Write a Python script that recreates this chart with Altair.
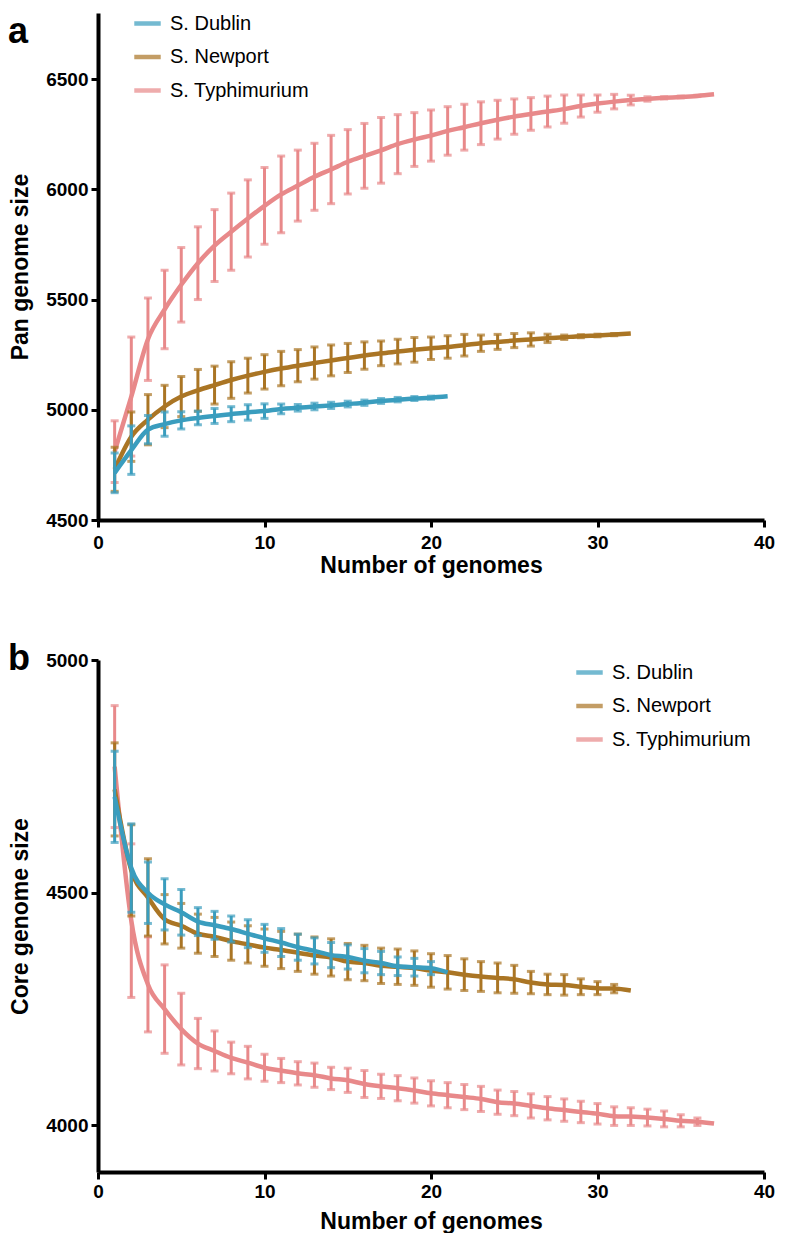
import altair as alt
import pandas as pd

SERIES = ["S. Dublin", "S. Newport", "S. Typhimurium"]
COLORS = ["#3A9DBE", "#AA7524", "#E8898A"]
X_TICKS = [0, 10, 20, 30, 40]
PAN_TICKS = [4500, 5000, 5500, 6000, 6500]
CORE_TICKS = [4000, 4500, 5000]

# ---- Panel a: pan genome size ----
PAN_DUB_N = list(range(1, 22))
PAN_DUB_MEAN = [4714, 4817, 4910, 4935, 4952, 4963, 4972, 4980, 4988, 4994, 5004,
                5009, 5015, 5020, 5026, 5032, 5040, 5046, 5051, 5055, 5061]
PAN_DUB_SD = [90, 110, 64, 55, 39, 31, 34, 34, 35, 33, 22, 15, 15, 14, 13, 12, 11,
              10, 9, 7, 0]

PAN_NEW_N = list(range(1, 33))
PAN_NEW_MEAN = [4730, 4878, 4955, 5015, 5060, 5088, 5112, 5135, 5155, 5172, 5187,
                5200, 5212, 5224, 5235, 5246, 5256, 5264, 5272, 5279, 5285, 5293,
                5302, 5308, 5314, 5319, 5324, 5329, 5334, 5337, 5341, 5346]
PAN_NEW_SD = [100, 112, 114, 96, 91, 95, 86, 83, 79, 78, 78, 73, 73, 70, 66, 62,
              56, 56, 56, 51, 51, 49, 37, 34, 32, 30, 19, 10, 7, 6, 5, 0]

PAN_TYP_N = list(range(1, 38))
PAN_TYP_MEAN = [4810, 5060, 5320, 5455, 5567, 5665, 5745, 5808, 5868, 5925, 5977,
                6017, 6057, 6090, 6125, 6152, 6177, 6205, 6226, 6244, 6265, 6282,
                6300, 6316, 6330, 6342, 6353, 6364, 6378, 6389, 6398, 6405, 6410,
                6415, 6419, 6424, 6431]
PAN_TYP_SD = [140, 270, 187, 178, 169, 165, 163, 175, 175, 174, 174, 161, 152, 155,
              146, 147, 149, 134, 122, 116, 110, 104, 97, 88, 80, 74, 70, 64, 50,
              39, 33, 22, 10, 5, 4, 3, 0]

# ---- Panel b: core genome size ----
CORE_DUB_N = list(range(1, 22))
CORE_DUB_MEAN = [4706, 4553, 4500, 4475, 4458, 4438, 4430, 4422, 4412, 4402, 4393,
                 4383, 4375, 4366, 4362, 4354, 4349, 4342, 4340, 4338, 4329]
CORE_DUB_SD = [98, 95, 66, 55, 49, 30, 30, 28, 30, 30, 30, 28, 28, 27, 26, 26, 25,
               20, 19, 14, 0]

CORE_NEW_N = list(range(1, 33))
CORE_NEW_MEAN = [4722, 4548, 4490, 4443, 4429, 4412, 4405, 4396, 4389, 4382, 4377,
                 4371, 4365, 4361, 4352, 4349, 4343, 4341, 4338, 4333, 4329, 4324,
                 4320, 4317, 4314, 4307, 4303, 4302, 4298, 4295, 4294, 4290]
CORE_NEW_SD = [100, 98, 83, 53, 48, 42, 42, 41, 40, 40, 40, 40, 40, 40, 39, 38, 38,
               38, 37, 36, 36, 34, 32, 32, 30, 24, 22, 22, 17, 14, 9, 0]

CORE_TYP_N = list(range(1, 38))
CORE_TYP_MEAN = [4771, 4440, 4303, 4250, 4207, 4176, 4160, 4145, 4135, 4124, 4118,
                 4112, 4108, 4101, 4097, 4089, 4084, 4080, 4075, 4069, 4065, 4061,
                 4057, 4050, 4047, 4042, 4037, 4033, 4029, 4025, 4020, 4019, 4017,
                 4014, 4010, 4008, 4004]
CORE_TYP_SD = [131, 165, 102, 95, 77, 54, 43, 34, 35, 29, 26, 25, 26, 24, 26, 29,
               26, 27, 27, 27, 27, 27, 27, 26, 26, 26, 25, 24, 23, 22, 20, 19, 18,
               17, 13, 8, 0]

FONT = "Liberation Sans"
PLOT_W = 666


def frame(name, ns, means, sds):
    return pd.DataFrame({
        "n": ns,
        "mean": means,
        "lo": [m - s for m, s in zip(means, sds)],
        "hi": [m + s for m, s in zip(means, sds)],
        "sd": sds,
        "series": name,
    })


def panel(frames, ydom, yticks, ytitle, letter, letter_y, legend_x, legend_y,
          height, label_pad, title_pad):
    color_scale = alt.Scale(domain=SERIES, range=COLORS)
    legend = alt.Legend(
        orient="none", legendX=legend_x, legendY=legend_y, title=None,
        labelFont=FONT, labelFontSize=20, labelColor="black",
        symbolType="stroke", symbolStrokeWidth=4.5, symbolSize=700,
        labelOffset=7, rowPadding=7.5, padding=0, labelLimit=300,
    )
    x = alt.X("n:Q", scale=alt.Scale(domain=[0, 40], nice=False),
              axis=alt.Axis(values=X_TICKS, title="Number of genomes",
                            labelPadding=label_pad, titlePadding=title_pad,
                            format="d"))
    y_axis = alt.Axis(values=yticks, title=ytitle, titlePadding=13,
                      labelPadding=3, format="d")
    y_scale = alt.Scale(domain=ydom, nice=False, zero=False)
    layers = []
    # draw order: Typhimurium (bottom), Newport, Dublin (top)
    for df in frames:
        base = alt.Chart(df)
        eb = alt.Chart(df[df["sd"] > 0])
        color = alt.Color("series:N", scale=color_scale, legend=legend)
        layers.append(eb.mark_rule(strokeWidth=3).encode(
            x=x, y=alt.Y("lo:Q", scale=y_scale, axis=y_axis), y2="hi:Q",
            color=color))
        layers.append(eb.mark_tick(orient="horizontal", size=8, thickness=3).encode(
            x=x, y=alt.Y("lo:Q", scale=y_scale, axis=y_axis), color=color))
        layers.append(eb.mark_tick(orient="horizontal", size=8, thickness=3).encode(
            x=x, y=alt.Y("hi:Q", scale=y_scale, axis=y_axis), color=color))
        layers.append(base.mark_line(strokeWidth=4.5, interpolate="monotone").encode(
            x=x, y=alt.Y("mean:Q", scale=y_scale, axis=y_axis),
            color=color, order="n:Q"))
    lab = alt.Chart(pd.DataFrame({"t": [letter]})).mark_text(
        font=FONT, fontSize=36, fontWeight="bold", align="left",
        baseline="top", color="black"
    ).encode(text="t:N", x=alt.value(-90), y=alt.value(letter_y))
    layers.append(lab)
    return alt.layer(*layers).properties(width=PLOT_W, height=height)


pan = panel(
    [frame("S. Typhimurium", PAN_TYP_N, PAN_TYP_MEAN, PAN_TYP_SD),
     frame("S. Newport", PAN_NEW_N, PAN_NEW_MEAN, PAN_NEW_SD),
     frame("S. Dublin", PAN_DUB_N, PAN_DUB_MEAN, PAN_DUB_SD)],
    [4500, 6800], PAN_TICKS, "Pan genome size", "a", 2, 34, -5, 507, 6, 2)

core = panel(
    [frame("S. Typhimurium", CORE_TYP_N, CORE_TYP_MEAN, CORE_TYP_SD),
     frame("S. Newport", CORE_NEW_N, CORE_NEW_MEAN, CORE_NEW_SD),
     frame("S. Dublin", CORE_DUB_N, CORE_DUB_MEAN, CORE_DUB_SD)],
    [3900, 5000], CORE_TICKS, "Core genome size", "b", -18, 476, -3, 512, 3, 9)

chart = alt.vconcat(pan, core, spacing=64).resolve_scale(
    x="independent", y="independent", color="independent"
).resolve_legend(color="independent").resolve_axis(
    x="independent", y="independent"
).properties(padding=0).configure_view(stroke=None).configure_axis(
    domainColor="black", domainWidth=4, tickColor="black", tickWidth=3,
    tickSize=7, grid=False, labelFont=FONT, labelFontSize=19,
    labelFontWeight="bold", labelColor="black", titleFont=FONT,
    titleFontSize=23, titleFontWeight="bold", titleColor="black",
    labelFlush=False, labelOverlap=False
)

chart.save("out.html", embed_options={"renderer": "svg", "actions": False})
